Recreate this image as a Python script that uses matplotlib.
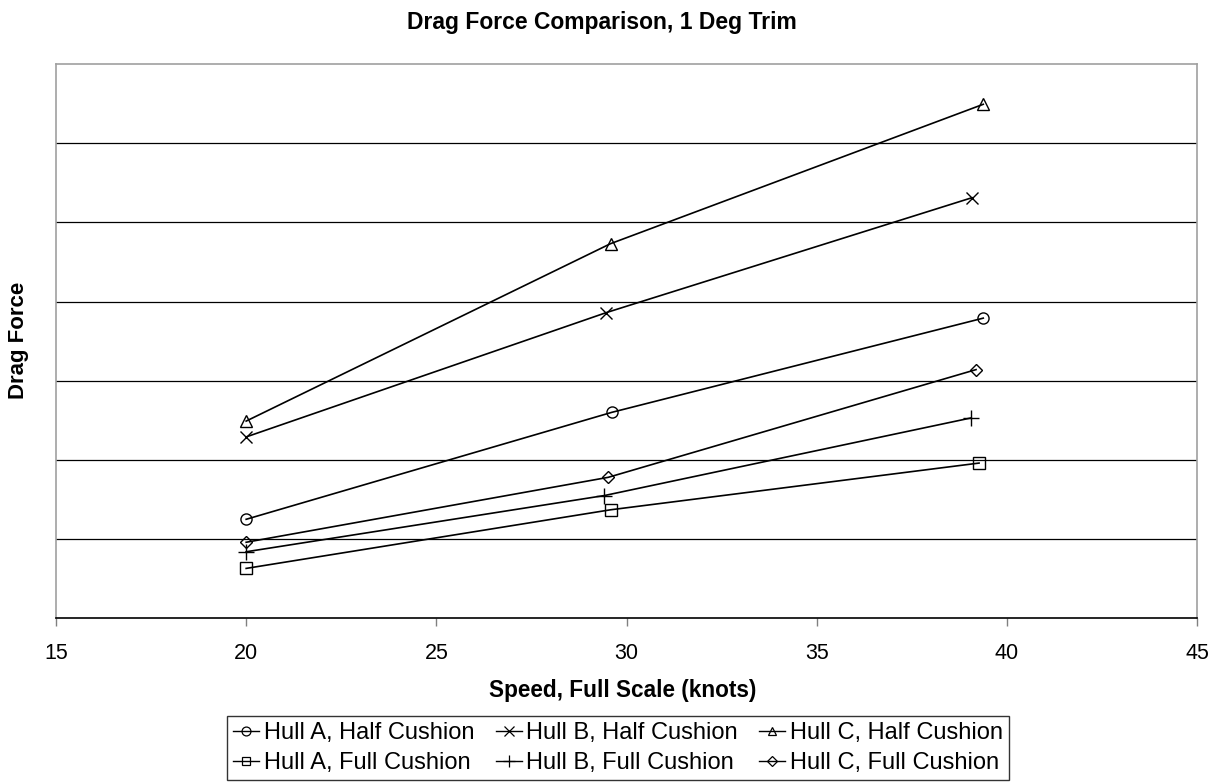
import matplotlib
matplotlib.use("Agg")
import matplotlib.pyplot as plt
from matplotlib.lines import Line2D

plt.rcParams['font.family'] = ['Liberation Sans', 'DejaVu Sans']

# Data (speed in knots, drag force in arbitrary units)
a_half_x = [20.0, 29.61, 39.38]
a_half_y = [1.25, 2.60, 3.79]
b_half_x = [20.0, 29.47, 39.08]
b_half_y = [2.29, 3.86, 5.31]
c_half_x = [20.0, 29.58, 39.38]
c_half_y = [2.49, 4.73, 6.49]
a_full_x = [20.0, 29.58, 39.27]
a_full_y = [0.63, 1.37, 1.96]
b_full_x = [20.0, 29.42, 39.06]
b_full_y = [0.84, 1.55, 2.53]
c_full_x = [20.0, 29.52, 39.19]
c_full_y = [0.96, 1.78, 3.14]

labels = ["Hull A, Half Cushion", "Hull B, Half Cushion", "Hull C, Half Cushion",
          "Hull A, Full Cushion", "Hull B, Full Cushion", "Hull C, Full Cushion"]
xticks = [15, 20, 25, 30, 35, 40, 45]

series = [
    (a_half_x, a_half_y, 'o', 8),
    (b_half_x, b_half_y, 'x', 9),
    (c_half_x, c_half_y, '^', 8),
    (a_full_x, a_full_y, 's', 8),
    (b_full_x, b_full_y, '+', 11),
    (c_full_x, c_full_y, 'D', 6),
]

fig = plt.figure(figsize=(12.21, 7.82), dpi=100)
ax = fig.add_axes([56/1221, 1-618.3/782, (1197-56)/1221, (618.3-63.9)/782])

for yv in range(1, 7):
    ax.axhline(yv, color='black', lw=0.9, zorder=1)

for (xs, ys, m, ms), lab in zip(series, labels):
    ax.plot(xs, ys, color='black', lw=1.2, marker=m, markersize=ms,
            markerfacecolor='none', markeredgecolor='black',
            markeredgewidth=1.0, label=lab, zorder=3)

ax.set_xlim(15, 45)
ax.set_ylim(0, 7)
ax.set_xticks(xticks)
ax.set_xticklabels([str(t) for t in xticks], fontsize=15.5)
ax.set_yticks([])
ax.tick_params(axis='x', direction='out', length=6, width=1, color='#808080', pad=12)

for s in ['left', 'top', 'right']:
    ax.spines[s].set_color('#a0a0a0')
    ax.spines[s].set_linewidth(1.2)
ax.spines['bottom'].set_color('black')
ax.spines['bottom'].set_linewidth(1.2)

fig.text(602/1221, 1-22/782, "Drag Force Comparison, 1 Deg Trim", ha='center', va='center',
         fontsize=16.5, fontweight='bold')
fig.text(623/1221, 1-690/782, "Speed, Full Scale (knots)", ha='center', va='center',
         fontsize=16.3, fontweight='bold')
fig.text(19/1221, 1-340/782, "Drag Force", ha='center', va='center', rotation=90,
         fontsize=16, fontweight='bold')

order = [0, 3, 1, 4, 2, 5]
leg_handles = [Line2D([], [], color='black', lw=1.0, marker=series[i][2],
                      markersize=series[i][3] * 0.8, markerfacecolor='none',
                      markeredgewidth=0.9) for i in order]
leg = fig.legend(leg_handles, [labels[i] for i in order], ncol=3,
                 loc='center', bbox_to_anchor=(618/1221, 1-748/782),
                 fontsize=17, frameon=True, fancybox=False, edgecolor='black',
                 handlelength=1.1, handletextpad=0.2, columnspacing=0.9,
                 labelspacing=0.35, borderpad=0.25, borderaxespad=0)
leg.get_frame().set_linewidth(1.0)

fig.savefig("out.png", dpi=100)
